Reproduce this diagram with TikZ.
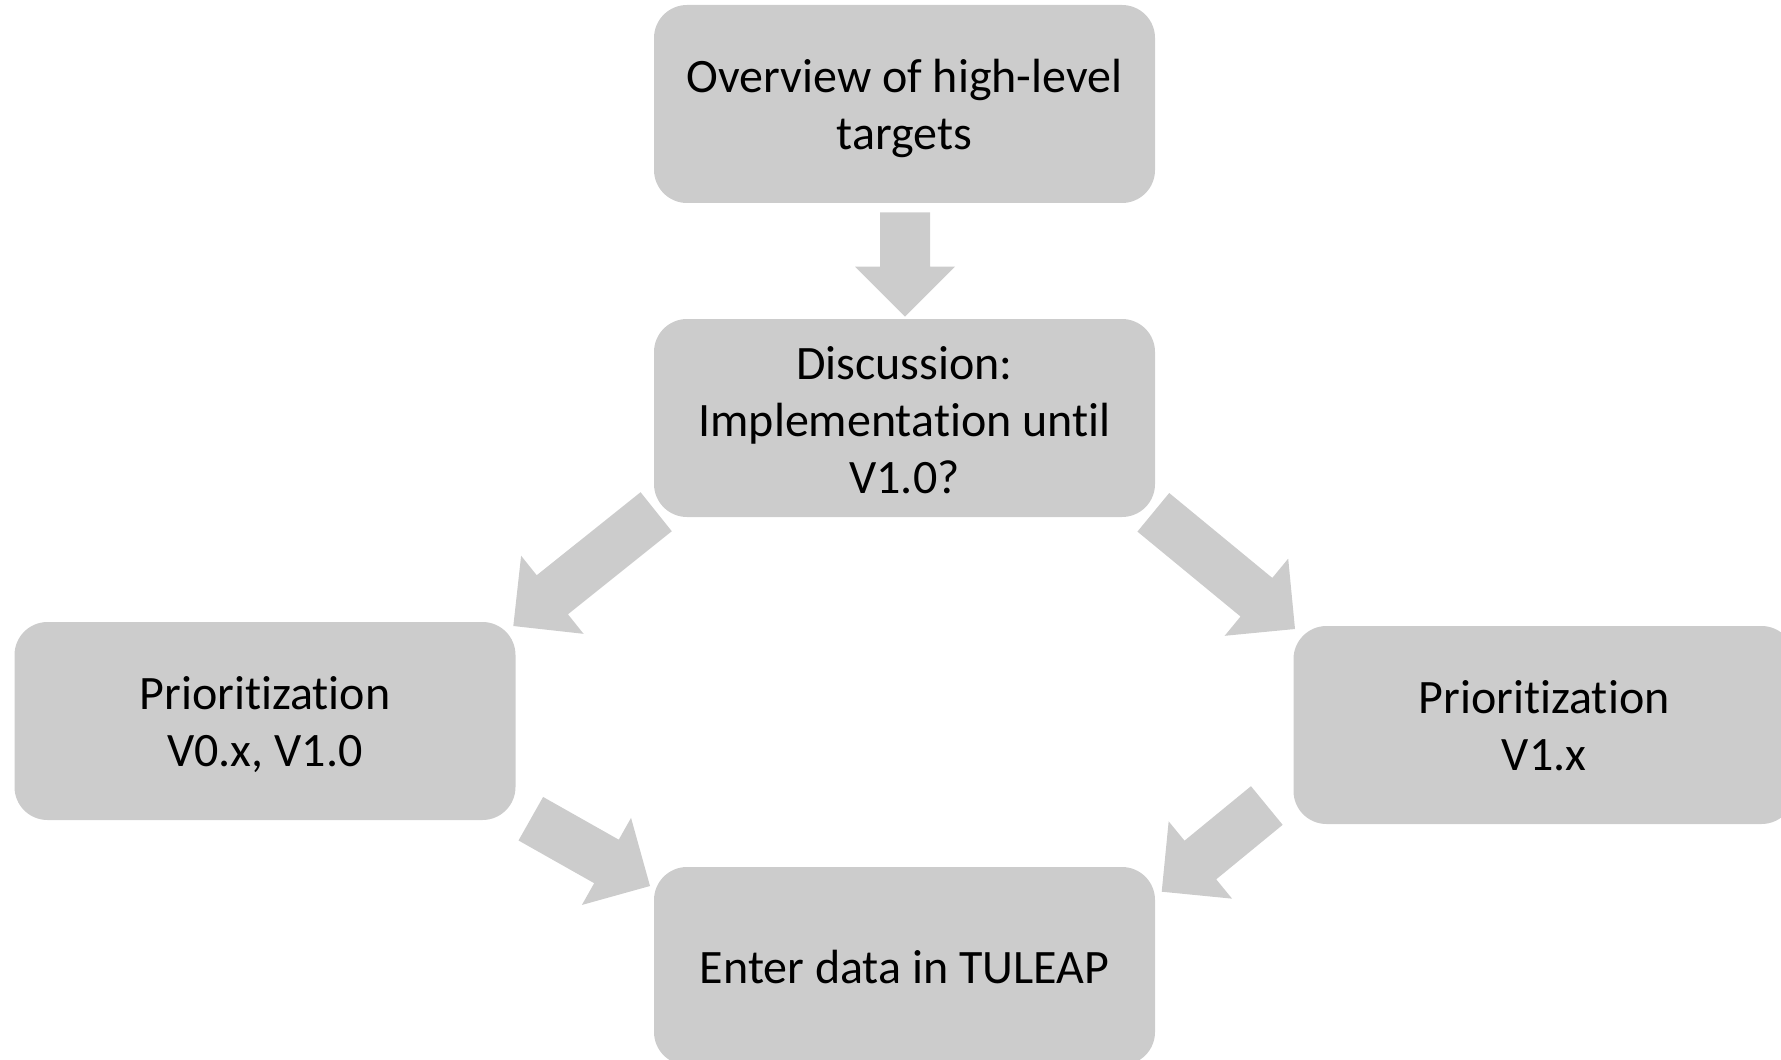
\documentclass[tikz,border=0pt]{standalone}
\usepackage{fontspec}
\setmainfont{Carlito}[Ligatures=NoCommon]
\usetikzlibrary{calc}
\definecolor{boxgray}{HTML}{CCCCCC}
\tikzset{
  stagebox/.style={fill=boxgray, draw=none, rounded corners=16.5pt,
    minimum width=250.5pt, minimum height=99pt, inner sep=0pt},
  stagetext/.style={inner sep=0pt, align=center, text=black,
    font=\fontsize{24}{28.5}\selectfont},
  blockfill/.style={fill=boxgray, draw=none}
}
\newcommand\blockarrow[2]{%
  \fill[blockfill]
    ($(#1)!12.5pt!90:(#2)$) --
    ($($(#2)!25pt!(#1)$)!12.5pt!-90:(#1)$) --
    ($($(#2)!25pt!(#1)$)!25pt!-90:(#1)$) --
    (#2) --
    ($($(#2)!25pt!(#1)$)!25pt!90:(#1)$) --
    ($($(#2)!25pt!(#1)$)!12.5pt!90:(#1)$) --
    ($(#1)!12.5pt!-90:(#2)$) -- cycle;}
\begin{document}
\begin{tikzpicture}[x=0.5pt, y=-0.5pt]
\useasboundingbox (0,0) rectangle (1781,1059);
\clip (0,0) rectangle (1781,1059);
\node[stagebox] (A) at (904.5,104) {};
\node[stagebox] (B) at (904.5,418) {};
\node[stagebox] (C) at (265,721) {};
\node[stagebox] (D) at (1544,725) {};
\node[stagebox] (E) at (904.5,966) {};
\node[stagetext] (At) at ($(A.center)+(0,4.5)$) {Overview of high-level\\targets};
\node[stagetext] (Bt) at ($(B.center)+(0,2)$) {Discussion:\\Implementation until\\V1.0?};
\node[stagetext] (Ct) at ($(C.center)+(0,3.5)$) {Prioritization\\V0.x, V1.0};
\node[stagetext] (Dt) at ($(D.center)+(0,0.5)$) {Prioritization\\V1.x};
\node[stagetext] (Et) at ($(E.center)+(0,1)$) {Enter data in TULEAP};
% arrow end points
\coordinate (ab0) at (905,212.3);   \coordinate (ab1) at (905,316.7);
\coordinate (bc0) at (656.2,511.7); \coordinate (bc1) at (513.3,626);
\coordinate (bd0) at (1153.3,512.3);\coordinate (bd1) at (1295,629);
\coordinate (ce0) at (530.8,818.7); \coordinate (ce1) at (650,886);
\coordinate (de0) at (1266.8,805.5);\coordinate (de1) at (1161.7,891.7);
\blockarrow{ab0}{ab1}
\blockarrow{bc0}{bc1}
\blockarrow{bd0}{bd1}
\blockarrow{ce0}{ce1}
\blockarrow{de0}{de1}
\end{tikzpicture}
\end{document}
